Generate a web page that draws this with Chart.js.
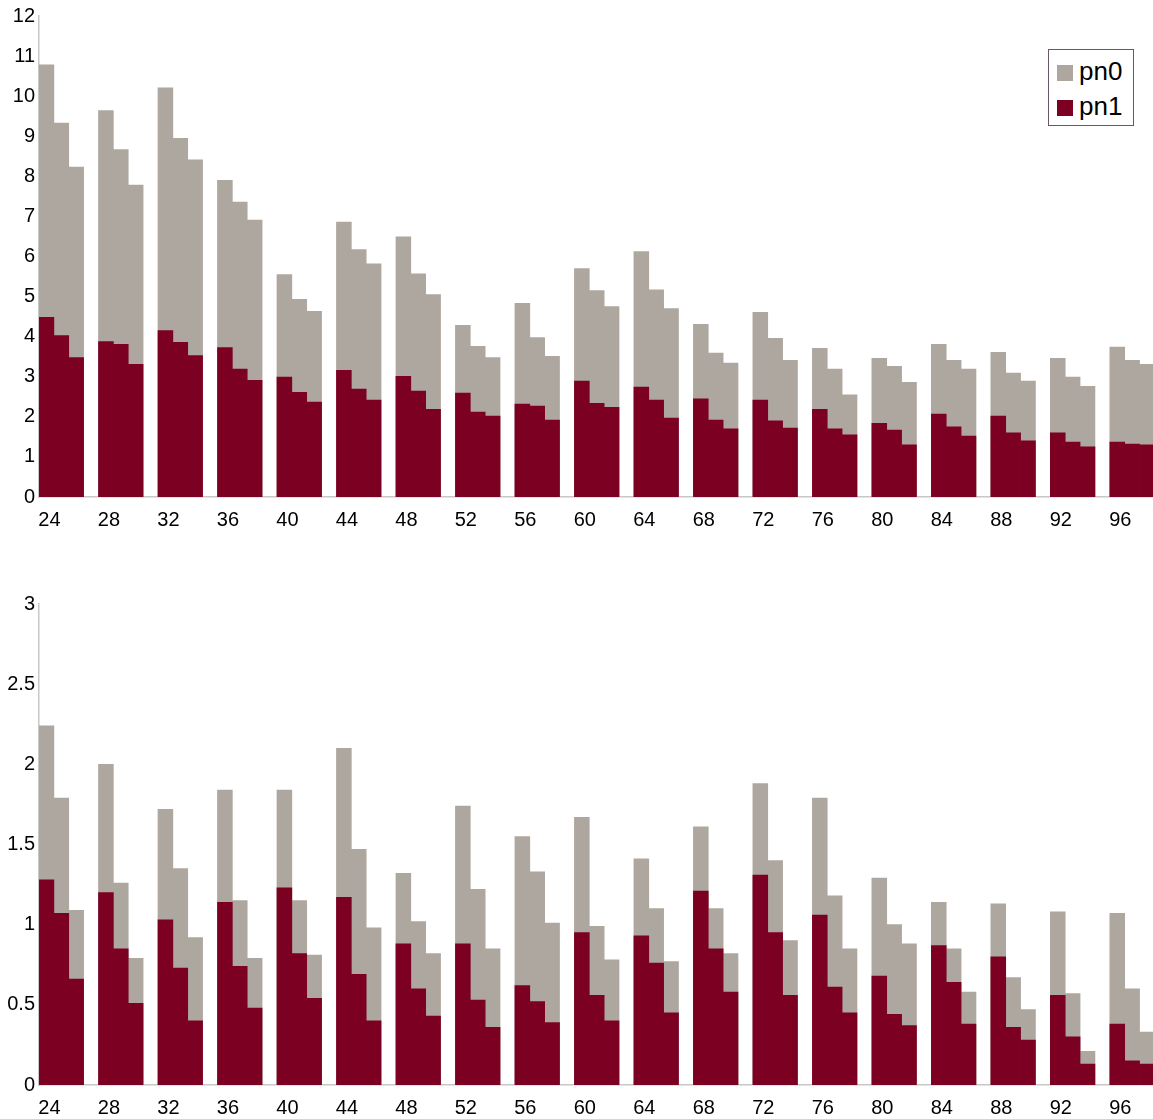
<!DOCTYPE html>
<html>
<head>
  <meta charset="UTF-8">
  <title>pn0 / pn1</title>
  <script src="https://cdn.jsdelivr.net/npm/chart.js"></script>
  <style>
    body { margin: 0; background: #fff; overflow: hidden; font-family: "Liberation Sans", Arial, sans-serif; }
    .clip { position: absolute; left: 0; width: 1153px; height: 531px; overflow: hidden; }
    .wrap { position: relative; width: 1158px; height: 531px; }
    #legend {
      position: absolute; left: 1048px; top: 49px; width: 84px; height: 75px;
      border: 1px solid #6e5566; background: #fff; font-size: 26px; color: #000;
    }
    .item { position: absolute; left: 8px; height: 26px; line-height: 26px; white-space: nowrap; }
    .swatch { display: inline-block; width: 16px; height: 16px; vertical-align: -1px; margin-right: 6px; }
  </style>
</head>
<body>
  <div class="clip" style="top:0"><div class="wrap"><canvas id="topChart"></canvas></div></div>
  <div class="clip" style="top:588px"><div class="wrap"><canvas id="bottomChart"></canvas></div></div>
  <div id="legend"></div>

  <script>
    // x positions (groups of three, one empty slot between groups)
    const categories = [
      24, 25, 26, 27, 28, 29, 30, 31, 32, 33, 34, 35, 36, 37, 38, 39,
      40, 41, 42, 43, 44, 45, 46, 47, 48, 49, 50, 51, 52, 53, 54, 55,
      56, 57, 58, 59, 60, 61, 62, 63, 64, 65, 66, 67, 68, 69, 70, 71,
      72, 73, 74, 75, 76, 77, 78, 79, 80, 81, 82, 83, 84, 85, 86, 87,
      88, 89, 90, 91, 92, 93, 94, 95, 96, 97, 98
    ];
    const xTickLabels = [24, 28, 32, 36, 40, 44, 48, 52, 56, 60, 64, 68, 72, 76, 80, 84, 88, 92, 96];

    const seriesNames = ['pn0', 'pn1'];
    const seriesColors = ['#aea79f', '#7c0022'];

    // upper panel (bar heights)
    const topPn0 = [
      10.78, 9.33, 8.23, null,  9.64, 8.67, 7.78, null,  10.21, 8.95, 8.41, null,
      7.90, 7.36, 6.91, null,   5.55, 4.93, 4.63, null,  6.86, 6.17, 5.82, null,
      6.49, 5.57, 5.05, null,   4.28, 3.76, 3.48, null,  4.83, 3.98, 3.51, null,
      5.70, 5.15, 4.75, null,   6.12, 5.17, 4.70, null,  4.31, 3.59, 3.34, null,
      4.61, 3.96, 3.41, null,   3.71, 3.19, 2.55, null,  3.46, 3.26, 2.86, null,
      3.81, 3.41, 3.19, null,   3.61, 3.09, 2.89, null,  3.46, 2.99, 2.76, null,
      3.74, 3.41, 3.31
    ];
    const topPn1 = [
      4.48, 4.03, 3.48, null,   3.88, 3.81, 3.31, null,  4.15, 3.86, 3.53, null,
      3.73, 3.19, 2.91, null,   2.99, 2.61, 2.37, null,  3.16, 2.69, 2.42, null,
      3.01, 2.64, 2.19, null,   2.59, 2.12, 2.02, null,  2.32, 2.27, 1.92, null,
      2.89, 2.34, 2.24, null,   2.74, 2.42, 1.97, null,  2.45, 1.92, 1.70, null,
      2.42, 1.90, 1.72, null,   2.19, 1.70, 1.55, null,  1.84, 1.67, 1.30, null,
      2.07, 1.75, 1.52, null,   2.02, 1.60, 1.40, null,  1.60, 1.37, 1.25, null,
      1.37, 1.32, 1.30
    ];

    // lower panel
    const bottomPn0 = [
      2.24, 1.79, 1.09, null,   2.00, 1.26, 0.79, null,  1.72, 1.35, 0.92, null,
      1.84, 1.15, 0.79, null,   1.84, 1.15, 0.81, null,  2.10, 1.47, 0.98, null,
      1.32, 1.02, 0.82, null,   1.74, 1.22, 0.85, null,  1.55, 1.33, 1.01, null,
      1.67, 0.99, 0.78, null,   1.41, 1.10, 0.77, null,  1.61, 1.10, 0.82, null,
      1.88, 1.40, 0.90, null,   1.79, 1.18, 0.85, null,  1.29, 1.00, 0.88, null,
      1.14, 0.85, 0.58, null,   1.13, 0.67, 0.47, null,  1.08, 0.57, 0.21, null,
      1.07, 0.60, 0.33
    ];
    const bottomPn1 = [
      1.28, 1.07, 0.66, null,   1.20, 0.85, 0.51, null,  1.03, 0.73, 0.40, null,
      1.14, 0.74, 0.48, null,   1.23, 0.82, 0.54, null,  1.17, 0.69, 0.40, null,
      0.88, 0.60, 0.43, null,   0.88, 0.53, 0.36, null,  0.62, 0.52, 0.39, null,
      0.95, 0.56, 0.40, null,   0.93, 0.76, 0.45, null,  1.21, 0.85, 0.58, null,
      1.31, 0.95, 0.56, null,   1.06, 0.61, 0.45, null,  0.68, 0.44, 0.37, null,
      0.87, 0.64, 0.38, null,   0.80, 0.36, 0.28, null,  0.56, 0.30, 0.13, null,
      0.38, 0.15, 0.13
    ];

    Chart.defaults.font.family = '"Liberation Sans", Arial, sans-serif';
    Chart.defaults.color = '#000';

    function makeChart(id, pn0, pn1, yMax, yStep) {
      const ctx = document.getElementById(id).getContext('2d');
      return new Chart(ctx, {
        type: 'bar',
        data: {
          labels: categories,
          datasets: [
            { label: seriesNames[0], data: pn0, backgroundColor: seriesColors[0], order: 1 },
            { label: seriesNames[1], data: pn1, backgroundColor: seriesColors[1], order: 0 }
          ]
        },
        options: {
          responsive: true,
          maintainAspectRatio: false,
          animation: false,
          datasets: {
            bar: { grouped: false, barPercentage: 1, categoryPercentage: 1, borderWidth: 0 }
          },
          layout: { padding: { top: 14, right: 0, left: 0, bottom: 0 } },
          plugins: { legend: { display: false }, tooltip: { enabled: false } },
          scales: {
            x: {
              grid: { display: false, drawTicks: false },
              border: { display: true, color: '#c8c8c8', width: 1.5 },
              ticks: {
                autoSkip: false,
                maxRotation: 0,
                padding: 11,
                labelOffset: 3,
                font: { size: 20 },
                callback: function (value) {
                  const c = categories[value];
                  return xTickLabels.includes(c) ? String(c) : '';
                }
              },
              afterFit: function (scale) { scale.height = 34; }
            },
            y: {
              min: 0,
              max: yMax,
              grid: { display: false, drawTicks: false },
              border: { display: true, color: '#c8c8c8', width: 1.5 },
              ticks: {
                stepSize: yStep,
                padding: 4,
                font: { size: 20 },
                callback: function (value) { return String(Number(value.toFixed(2))); }
              },
              afterFit: function (scale) { scale.width = 39; }
            }
          }
        }
      });
    }

    makeChart('topChart', topPn0, topPn1, 12, 1);
    makeChart('bottomChart', bottomPn0, bottomPn1, 3, 0.5);

    // legend box (upper panel only)
    const legend = document.getElementById('legend');
    seriesNames.forEach((name, i) => {
      const item = document.createElement('div');
      item.className = 'item';
      item.style.top = (8 + i * 35) + 'px';
      item.innerHTML = '<span class="swatch" style="background:' + seriesColors[i] + '"></span>' + name;
      legend.appendChild(item);
    });
  </script>
</body>
</html>
